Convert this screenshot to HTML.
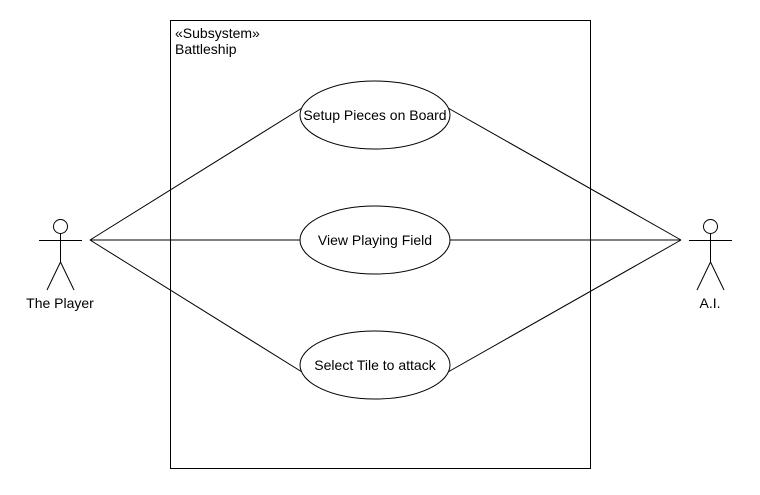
<!DOCTYPE html>
<html><head><style>body{margin:0;background:#fff}</style></head><body>
<svg width="760" height="490" xmlns="http://www.w3.org/2000/svg" font-family="Liberation Sans, sans-serif" font-size="14">
<rect x="0" y="0" width="760" height="490" fill="#fff"/>
<rect x="170.5" y="20.5" width="420" height="448" fill="none" stroke="#000"/>
<text x="175" y="38">«Subsystem»</text>
<text x="175" y="54">Battleship</text>
<g stroke="#000" fill="none">
<line x1="90" y1="240" x2="302" y2="108"/>
<line x1="90" y1="240" x2="300" y2="240"/>
<line x1="90" y1="240" x2="302" y2="372"/>
<line x1="681" y1="240" x2="448" y2="108"/>
<line x1="681" y1="240" x2="450" y2="240"/>
<line x1="681" y1="240" x2="448" y2="372"/>
<ellipse cx="375" cy="115" rx="75" ry="34" fill="#fff"/>
<ellipse cx="375" cy="240" rx="75" ry="34" fill="#fff"/>
<ellipse cx="375" cy="365" rx="75" ry="34" fill="#fff"/>
<circle cx="60.5" cy="226.5" r="7"/>
<line x1="60.5" y1="233" x2="60.5" y2="262"/>
<line x1="39" y1="240.5" x2="82" y2="240.5"/>
<line x1="60.5" y1="262" x2="47" y2="290"/>
<line x1="60.5" y1="262" x2="74" y2="290"/>
<circle cx="710.5" cy="226.5" r="7"/>
<line x1="710.5" y1="233" x2="710.5" y2="262"/>
<line x1="689" y1="240.5" x2="732" y2="240.5"/>
<line x1="710.5" y1="262" x2="697" y2="290"/>
<line x1="710.5" y1="262" x2="724" y2="290"/>
</g>
<g text-anchor="middle">
<text x="375" y="120">Setup Pieces on Board</text>
<text x="375" y="245">View Playing Field</text>
<text x="375" y="370">Select Tile to attack</text>
<text x="60" y="308">The Player</text>
<text x="710" y="308">A.I.</text>
</g>
</svg>
</body></html>
